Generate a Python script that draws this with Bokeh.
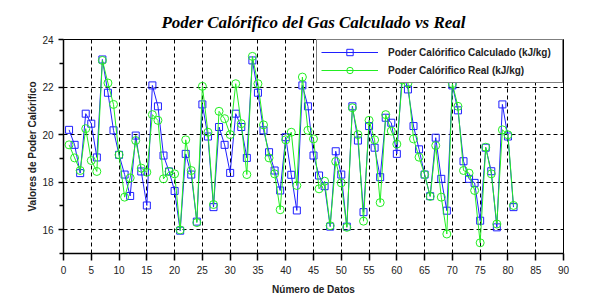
from bokeh.plotting import figure
from bokeh.models import Range1d, FixedTicker, Legend, LegendItem, ColumnDataSource
from bokeh.embed import file_html
from bokeh.resources import INLINE

x_vals = list(range(1, 82))

calculado = [20.20, 19.57, 18.38, 20.88, 20.46, 19.04, 23.16, 21.76, 20.18, 19.15,
             18.32, 17.42, 19.96, 18.45, 17.02, 22.07, 21.19, 19.12, 18.45, 17.63,
             15.96, 19.19, 18.32, 16.34, 21.27, 19.92, 16.95, 20.32, 19.57, 18.39,
             20.88, 20.32, 19.02, 23.12, 21.76, 20.18, 19.26, 18.49, 17.65, 19.89,
             18.31, 16.81, 22.07, 21.19, 19.12, 18.28, 17.83, 16.13, 19.30, 18.32,
             16.13, 21.19, 19.75, 16.74, 20.36, 19.45, 18.21, 20.71, 20.50, 19.19,
             22.70, 21.90, 20.36, 19.38, 18.32, 17.41, 19.87, 18.14, 16.80, 22.07,
             21.02, 18.88, 18.14, 17.97, 16.38, 19.45, 18.46, 16.10, 21.27, 19.92,
             16.95]

real = [19.57, 19.02, 18.49, 20.25, 18.91, 18.45, 23.12, 22.17, 21.27, 19.15,
        17.37, 18.18, 19.75, 18.59, 18.42, 20.84, 20.60, 18.14, 18.45, 18.35,
        15.99, 19.78, 18.49, 16.30, 22.03, 20.10, 17.06, 20.98, 20.67, 20.00,
        22.14, 20.46, 18.32, 23.29, 22.14, 20.41, 19.02, 18.35, 16.84, 19.78,
        20.10, 17.86, 22.42, 20.18, 19.82, 17.72, 18.04, 16.17, 18.87, 17.97,
        16.10, 21.13, 20.00, 16.36, 20.60, 19.78, 17.14, 20.84, 20.15, 19.60,
        22.30, 22.17, 19.82, 19.05, 18.32, 17.40, 19.54, 17.37, 15.82, 22.14,
        21.19, 18.49, 18.38, 17.65, 15.45, 19.47, 18.35, 16.24, 20.20, 19.99,
        17.02]

x_ticks = list(range(0, 91, 5))
y_ticks = [16, 18, 20, 22, 24]
y_minor = [15, 17, 19, 21, 23]

title_text = "Poder Calórifico del Gas Calculado vs Real"
x_label = "Número de Datos"
y_label = "Valores de Poder Calórifico"
name_calc = "Poder Calórifico Calculado (kJ/kg)"
name_real = "Poder Calórifico Real (kJ/kg)"

BLUE = "#1f1fff"
GREEN = "#22ee22"

p = figure(width=613, height=308, output_backend="svg", toolbar_location=None,
           x_range=Range1d(0, 90), y_range=Range1d(15, 24),
           min_border_left=63, min_border_right=50, min_border_top=39,
           min_border_bottom=55, title=title_text)

p.title.text_font = "Liberation Serif"
p.title.text_font_style = "bold italic"
p.title.text_font_size = "17px"
p.title.align = "center"
p.title.text_color = "black"
p.title.standoff = 16
p.title.offset = -8

p.background_fill_color = "white"
p.border_fill_color = "white"
p.outline_line_color = "black"
p.outline_line_width = 1

src = ColumnDataSource(dict(x=x_vals, calc=calculado, real=real))

l1 = p.line("x", "calc", source=src, line_color=BLUE, line_width=1)
s1 = p.scatter("x", "calc", source=src, marker="square", size=7,
               line_color=BLUE, fill_color=None, line_width=1)
l2 = p.line("x", "real", source=src, line_color=GREEN, line_width=1)
s2 = p.scatter("x", "real", source=src, marker="circle", size=8,
               line_color=GREEN, fill_color=None, line_width=1)

# axes
xa = p.xaxis[0]
xa.ticker = FixedTicker(ticks=x_ticks)
xa.major_tick_out = 7
xa.major_tick_in = 0
xa.minor_tick_out = 0
xa.minor_tick_in = 0
xa.axis_line_width = 1.5
xa.major_tick_line_width = 1.5
xa.major_label_standoff = 5
xa.major_label_text_font = "Liberation Sans"
xa.major_label_text_font_size = "10px"
xa.major_label_text_color = "#222222"
xa.axis_label = x_label
xa.axis_label_text_font = "Liberation Sans"
xa.axis_label_text_font_size = "10px"
xa.axis_label_text_font_style = "bold"
xa.axis_label_text_color = "#222222"
xa.axis_label_standoff = 7

ya = p.yaxis[0]
ya.ticker = FixedTicker(ticks=y_ticks, minor_ticks=y_minor)
ya.major_tick_out = 5
ya.major_tick_in = 0
ya.minor_tick_out = 4
ya.minor_tick_in = 0
ya.axis_line_width = 1.5
ya.major_tick_line_width = 1.5
ya.minor_tick_line_width = 1.5
ya.major_label_standoff = 5
ya.major_label_text_font = "Liberation Sans"
ya.major_label_text_font_size = "10px"
ya.major_label_text_color = "#222222"
ya.axis_label = y_label
ya.axis_label_text_font = "Liberation Sans"
ya.axis_label_text_font_size = "10px"
ya.axis_label_text_font_style = "bold"
ya.axis_label_text_color = "#222222"
ya.axis_label_standoff = 1

# grids
p.xgrid.ticker = FixedTicker(ticks=x_ticks[1:-1])
p.ygrid.ticker = FixedTicker(ticks=y_ticks[:-1])
for g in (p.xgrid[0], p.ygrid[0]):
    g.grid_line_color = "black"
    g.grid_line_dash = "4 3"
    g.grid_line_width = 1
    g.grid_line_alpha = 1

legend = Legend(items=[LegendItem(label=name_calc, renderers=[l1, s1]),
                       LegendItem(label=name_real, renderers=[l2, s2])],
                location="top_right", margin=0, padding=4, spacing=2,
                glyph_width=57, glyph_height=16, label_height=16,
                label_width=170,
                label_standoff=10, border_line_color="black",
                border_line_width=1.5, background_fill_color="white",
                background_fill_alpha=1,
                label_text_font="Liberation Sans", label_text_font_size="10px",
                label_text_font_style="bold", label_text_color="#222222")
p.add_layout(legend)

open("out.html", "w").write(file_html(p, INLINE))
